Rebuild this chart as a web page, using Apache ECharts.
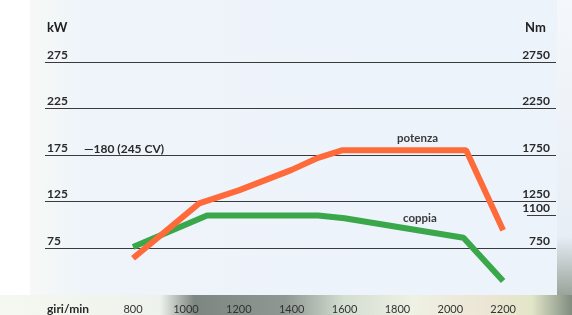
<!DOCTYPE html>
<html><head><meta charset="utf-8">
<script src="https://cdn.jsdelivr.net/npm/echarts@6/dist/echarts.min.js"></script>
<style>html,body{margin:0;padding:0;background:#fff}#c{width:572px;height:315px}</style>
</head><body><div id="c"></div>
<script>
// Tick labels
const rpmTicks = [800, 1000, 1200, 1400, 1600, 1800, 2000, 2200];
const kwTicks = [75, 125, 175, 225, 275];
const nmTicks = [750, 1100, 1250, 1750, 2250, 2750];
// Potenza (kW) vs giri/min
const potenzaRpm = [800, 1050, 1200, 1400, 1500, 1590, 2060, 2200];
const potenzaKw  = [64, 123, 137, 159, 172, 180, 180, 94];
// Coppia (Nm) vs giri/min
const coppiaRpm = [800, 1080, 1500, 1600, 2050, 2200];
const coppiaNm  = [760, 1100, 1100, 1070, 860, 395];

const FONT = 'Lato, "Open Sans", sans-serif';
const plain = v => String(v);
const chart = echarts.init(document.getElementById('c'), null, {renderer: 'canvas'});

chart.setOption({
  backgroundColor: '#ffffff',
  animation: false,
  grid: {left: 45, right: 16, top: 62, bottom: 20.5, containLabel: false},
  xAxis: {
    type: 'value', min: 467, max: 2400,
    axisLine: {show: false}, axisTick: {show: false}, splitLine: {show: false},
    axisLabel: {customValues: rpmTicks, formatter: plain, color: '#333', fontSize: 11, fontFamily: FONT, margin: 9}
  },
  yAxis: [{
    type: 'value', min: 25, max: 275, interval: 50, position: 'left',
    axisLine: {show: false}, axisTick: {show: false},
    splitLine: {show: true, showMinLine: false, lineStyle: {color: '#3a3a3a', width: 1}},
    axisLabel: {inside: true, customValues: kwTicks, formatter: plain, color: '#2a2a2a', fontSize: 12, fontWeight: 'bold',
      fontFamily: FONT, margin: 2, verticalAlign: 'bottom', align: 'left', padding: [0, 0, 1, 0]}
  }, {
    type: 'value', min: 250, max: 2750, interval: 500, position: 'right',
    axisLine: {show: false}, axisTick: {show: false}, splitLine: {show: false},
    axisLabel: {inside: true, customValues: nmTicks, formatter: plain, color: '#2a2a2a', fontSize: 12, fontWeight: 'bold',
      fontFamily: FONT, margin: 6, verticalAlign: 'bottom', align: 'right', padding: [0, 0, 1, 0]}
  }],
  series: [{
    name: 'potenza', type: 'line', yAxisIndex: 0, showSymbol: false, z: 5,
    data: potenzaRpm.map((r, i) => [r, potenzaKw[i]]),
    lineStyle: {color: '#ff6a3a', width: 6}
  }, {
    name: 'coppia', type: 'line', yAxisIndex: 1, showSymbol: false, z: 4,
    data: coppiaRpm.map((r, i) => [r, coppiaNm[i]]),
    lineStyle: {color: '#3aa84a', width: 6},
    markLine: {silent: true, symbol: 'none', label: {show: false},
      lineStyle: {color: '#3a3a3a', width: 1, type: 'solid'},
      data: [[{coord: [2290, 1100]}, {coord: [2400, 1100]}]]}
  }],
  graphic: [
    {type: 'rect', z: -10, silent: true, shape: {x: 30, y: 0, width: 527, height: 295},
      style: {fill: new echarts.graphic.LinearGradient(0, 0, 1, 0, [
        {offset: 0, color: '#f6f9f6'}, {offset: 0.1, color: '#eef4fa'}, {offset: 1, color: '#edf3fa'}])}},
    {type: 'rect', z: -10, silent: true, shape: {x: 0, y: 295, width: 572, height: 20},
      style: {fill: new echarts.graphic.LinearGradient(0, 0, 1, 0, [
        {offset: 0, color: '#f4f8f0'}, {offset: 0.28, color: '#eef2ec'},
        {offset: 0.34, color: '#7d8680'}, {offset: 0.5, color: '#8f9892'},
        {offset: 0.6, color: '#d3ddd0'}, {offset: 0.72, color: '#eef1e4'},
        {offset: 0.84, color: '#ece6d6'}, {offset: 0.93, color: '#e2e6c8'}, {offset: 1, color: '#7f8c80'}])}},
    {type: 'rect', z: -10, silent: true, shape: {x: 557, y: 0, width: 15, height: 295},
      style: {fill: new echarts.graphic.LinearGradient(0, 0, 0, 1, [
        {offset: 0, color: '#f4f7fb'}, {offset: 0.8, color: '#e8eef5'}, {offset: 1, color: '#9aa39c'}])}},
    {type: 'text', z: 10, left: 47, top: 21, style: {text: 'kW', fill: '#222', font: 'bold 13px ' + FONT}},
    {type: 'text', z: 10, left: 525, top: 21, style: {text: 'Nm', fill: '#222', font: 'bold 13px ' + FONT}},
    {type: 'text', z: 10, left: 84, top: 143, style: {text: '—180 (245 CV)', fill: '#2a2a2a', font: 'bold 12px ' + FONT}},
    {type: 'text', z: 10, left: 397, top: 132, style: {text: 'potenza', fill: '#3a3a3a', font: 'bold 11.5px ' + FONT}},
    {type: 'text', z: 10, left: 403, top: 212, style: {text: 'coppia', fill: '#3a3a3a', font: 'bold 11.5px ' + FONT}},
    {type: 'text', z: 10, left: 47, top: 303, style: {text: 'giri/min', fill: '#2a2a2a', font: 'bold 12px ' + FONT}}
  ]
});
</script>
</body></html>
